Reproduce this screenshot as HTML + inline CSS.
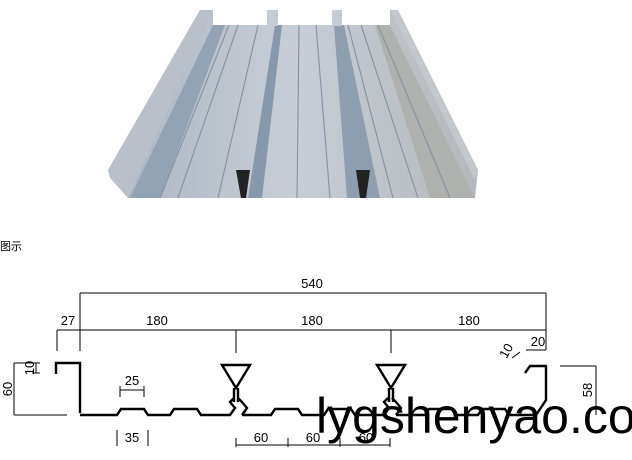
<!DOCTYPE html>
<html><head><meta charset="utf-8"><style>
html,body{margin:0;padding:0;background:#fff;width:632px;height:460px;overflow:hidden}
svg{position:absolute;left:0;top:0}
text{font-family:"Liberation Sans","DejaVu Sans",sans-serif}
</style></head><body>
<svg width="632" height="460" viewBox="0 0 632 460">
<defs>
<linearGradient id="g1" x1="0" y1="0" x2="1" y2="0">
<stop offset="0" stop-color="#a9b3c0"/><stop offset="0.5" stop-color="#c8ced6"/><stop offset="1" stop-color="#b4b8bd"/>
</linearGradient>
</defs>
<polygon points="108,170 200,10 213,10 213,25 390,25 390,10 398,10 478,170 475,198 128,198" fill="url(#g1)"/>
<polygon points="108,170 200,10 213,10 128,198 110,178" fill="#b9c0c9"/>
<polygon points="130,198 213,25 225,25 160,198" fill="#94a3b4"/>
<polygon points="248,198 275,25 282,25 262,198" fill="#8898ab"/>
<polygon points="347,198 334,25 344,25 380,198" fill="#8f9eaf"/>
<polygon points="430,198 375,25 390,25 475,198" fill="#aeb1ae"/>
<polygon points="390,10 398,10 478,170 475,180" fill="#c3c7cc"/>
<g stroke="#8a94a0" stroke-width="1.2">
<line x1="160" y1="198" x2="229" y2="25"/><line x1="178" y1="198" x2="238" y2="25"/>
<line x1="218" y1="198" x2="258" y2="25"/><line x1="297" y1="198" x2="299" y2="25"/>
<line x1="330" y1="198" x2="316" y2="25"/><line x1="393" y1="198" x2="348" y2="25"/>
<line x1="418" y1="198" x2="361" y2="25"/><line x1="450" y1="198" x2="378" y2="25"/>
</g>
<rect x="267" y="10" width="11" height="16" fill="#c5ccd5"/>
<rect x="332" y="10" width="10" height="16" fill="#c5ccd5"/>
<polygon points="236,170 250,170 246,198 241,198" fill="#222"/>
<polygon points="356,170 370,170 366,198 360,198" fill="#222"/>
<text x="0" y="250" font-size="11" font-family="'Noto Sans CJK SC',sans-serif">图示</text>
<g stroke="#000" stroke-width="1" fill="none">
<line x1="80" y1="293" x2="546" y2="293"/>
<line x1="57" y1="330" x2="546" y2="330"/>
<line x1="57" y1="330" x2="57" y2="351"/><line x1="80" y1="293" x2="80" y2="351"/>
<line x1="236" y1="330" x2="236" y2="353"/><line x1="391" y1="330" x2="391" y2="353"/>
<line x1="546" y1="293" x2="546" y2="350"/>
<line x1="526" y1="350" x2="546" y2="350"/>
<line x1="14" y1="363" x2="14" y2="415"/><line x1="14" y1="415" x2="67" y2="415"/><line x1="14" y1="363" x2="40" y2="363"/>
<line x1="596" y1="366" x2="596" y2="415"/><line x1="560" y1="366" x2="596" y2="366"/>
<line x1="120" y1="390" x2="144" y2="390"/><line x1="120" y1="386" x2="120" y2="397"/><line x1="144" y1="386" x2="144" y2="397"/>
<line x1="117" y1="430" x2="117" y2="446"/><line x1="148" y1="430" x2="148" y2="446"/>
<line x1="236" y1="445" x2="390" y2="445"/>
<line x1="236" y1="438" x2="236" y2="447"/><line x1="288" y1="438" x2="288" y2="447"/><line x1="340" y1="438" x2="340" y2="447"/><line x1="390" y1="438" x2="390" y2="447"/>
<line x1="36" y1="363" x2="36" y2="373"/><line x1="32" y1="373" x2="40" y2="373"/>
<line x1="512" y1="358" x2="520" y2="352"/>
</g>
<g stroke="#000" stroke-width="2.4" fill="none" stroke-linejoin="miter">
<polyline points="56,374 56,363 80,363 80,413"/>
<polyline points="80,415 117,415 121,409 144,409 148,415 170,415 174,409 197,409 201,415 230,415 235,408 230,402 234,398"/>
<polyline points="242,415 247,408 242,402 238,398"/>
<polygon points="222,365 250,365 236,388"/>
<line x1="234" y1="388" x2="234" y2="402"/><line x1="238" y1="388" x2="238" y2="402"/>
<polyline points="242,415 271,415 275,409 298,409 302,415 324,415 328,409 351,409 355,415 384,415 389,408 384,402 388,398"/>
<polyline points="396,415 401,408 396,402 392,398"/>
<polygon points="377,365 405,365 391,388"/>
<line x1="389" y1="388" x2="389" y2="402"/><line x1="393" y1="388" x2="393" y2="402"/>
<polyline points="396,415 425,415 429,409 452,409 456,415 478,415 482,409 505,409 509,415 536,415 546,400 546,366 530,366 525,373"/>
</g>
<g font-size="13" fill="#000">
<text x="312" y="288" text-anchor="middle">540</text>
<text x="68" y="325" text-anchor="middle">27</text>
<text x="157" y="325" text-anchor="middle">180</text>
<text x="312" y="325" text-anchor="middle">180</text>
<text x="469" y="325" text-anchor="middle">180</text>
<text x="538" y="346" text-anchor="middle">20</text>
<text x="132" y="385" text-anchor="middle">25</text>
<text x="132" y="442" text-anchor="middle">35</text>
<text x="261" y="442" text-anchor="middle">60</text>
<text x="313" y="442" text-anchor="middle">60</text>
<text x="366" y="442" text-anchor="middle">60</text>
<text transform="translate(12,389) rotate(-90)" text-anchor="middle">60</text>
<text transform="translate(34,368) rotate(-90)" text-anchor="middle">10</text>
<text transform="translate(592,390) rotate(-90)" text-anchor="middle">58</text>
<text transform="translate(510,353) rotate(-60)" text-anchor="middle">10</text>
</g>
<text x="316" y="433" font-size="50" fill="#000">lygshenyao.co</text>
</svg>
</body></html>
